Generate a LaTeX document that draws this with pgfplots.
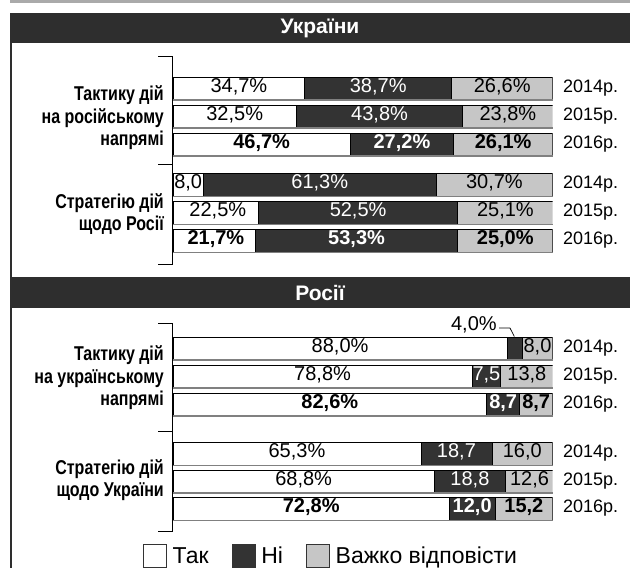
\documentclass[border=0pt]{standalone}
\usepackage{pgfplots}
\pgfplotsset{compat=1.18}
\usepackage{fontspec}
\setmainfont{Liberation Sans}
\newfontfamily\condb{Liberation Sans}[FakeStretch=0.8]
\definecolor{dk}{HTML}{333333}
\definecolor{lg}{HTML}{C6C6C6}
\definecolor{hdr}{HTML}{2E2E2E}
\definecolor{topgray}{HTML}{AAAAAA}
\definecolor{shadow}{HTML}{808080}
\tikzset{
  lbl/.style={font=\fontsize{20}{22}\selectfont, inner sep=0pt, text height=0.72em, text depth=0pt, anchor=center},
  blbl/.style={lbl, font=\fontsize{20}{22}\selectfont\bfseries},
  yr/.style={font=\fontsize{18}{20}\selectfont, inner sep=0pt, anchor=west, text height=0.72em, text depth=0pt},
  cat/.style={font=\fontsize{20}{22.5}\selectfont\condb\bfseries, align=right, anchor=east, inner sep=0pt},
}
\pgfplotsset{
  panel/.style={
    scale only axis, width=379.7pt, xmin=0, xmax=100, y dir=reverse,
    xbar stacked, bar width=23pt, axis line style={draw=none},
    xtick=\empty, ytick=\empty, clip mode=individual,
    every axis plot/.append style={draw=black, line width=0.7pt},
  },
  over/.style={
    scale only axis, width=379.7pt, xmin=0, xmax=100, y dir=reverse,
    hide axis, clip=false,
  }
}
\begin{document}
\begin{tikzpicture}
\useasboundingbox (0,0) rectangle (630pt,-568pt);
\fill[topgray] (10pt,0pt) rectangle (630pt,-3pt);
\fill[hdr] (10pt,-13pt) rectangle (630pt,-43pt);
\node[white, font=\fontsize{21}{22}\selectfont\bfseries] at (320pt,-28pt) {України};
\draw[hdr, line width=1.6pt] (10.8pt,-43pt) -- (10.8pt,-277pt);
\fill[hdr] (10pt,-277pt) rectangle (630pt,-308pt);
\node[white, font=\fontsize{21}{22}\selectfont\bfseries] at (320pt,-292.5pt) {Росії};
\draw[hdr, line width=1.6pt] (10.8pt,-308pt) -- (10.8pt,-568pt);

% panel 1 bars
\begin{axis}[panel, at={(173pt,-60pt)}, anchor=north west, height=210pt, ymin=60, ymax=270]
\addplot[fill=white] coordinates {(34.7,88.5) (32.5,116.5) (46.7,144.5) (8.0,185) (22.5,213) (21.7,241)};
\addplot[fill=dk] coordinates {(38.7,88.5) (43.8,116.5) (27.2,144.5) (61.3,185) (52.5,213) (53.3,241)};
\addplot[fill=lg] coordinates {(26.6,88.5) (23.8,116.5) (26.1,144.5) (30.7,185) (25.1,213) (25.0,241)};
\end{axis}
% panel 1 labels
\begin{axis}[over, at={(173pt,-60pt)}, anchor=north west, height=210pt, ymin=60, ymax=270]
\foreach \yy in {88.5,116.5,144.5,185,213,241}{
  \edef\temp{\noexpand\draw[shadow, line width=1.5pt] (axis cs:0,\yy+11.3) -- (axis cs:100,\yy+11.3);}\temp
}
\node[lbl] at (axis cs:17.35,88.5) {34,7\%};
\node[lbl,white] at (axis cs:54.05,88.5) {38,7\%};
\node[lbl] at (axis cs:86.7,88.5) {26,6\%};
\node[lbl] at (axis cs:16.25,116.5) {32,5\%};
\node[lbl,white] at (axis cs:54.4,116.5) {43,8\%};
\node[lbl] at (axis cs:88.2,116.5) {23,8\%};
\node[blbl] at (axis cs:23.35,144.5) {46,7\%};
\node[blbl,white] at (axis cs:60.3,144.5) {27,2\%};
\node[blbl] at (axis cs:86.95,144.5) {26,1\%};
\node[lbl] at (axis cs:4.0,185) {8,0};
\node[lbl,white] at (axis cs:38.65,185) {61,3\%};
\node[lbl] at (axis cs:84.65,185) {30,7\%};
\node[lbl] at (axis cs:11.8,213) {22,5\%};
\node[lbl,white] at (axis cs:48.75,213) {52,5\%};
\node[lbl] at (axis cs:87.55,213) {25,1\%};
\node[blbl] at (axis cs:11.3,241) {21,7\%};
\node[blbl,white] at (axis cs:48.35,241) {53,3\%};
\node[blbl] at (axis cs:87.5,241) {25,0\%};
\node[yr] at (axis cs:102.7,88.5) {2014р.};
\node[yr] at (axis cs:102.7,116.5) {2015р.};
\node[yr] at (axis cs:102.7,144.5) {2016р.};
\node[yr] at (axis cs:102.7,185) {2014р.};
\node[yr] at (axis cs:102.7,213) {2015р.};
\node[yr] at (axis cs:102.7,241) {2016р.};
\end{axis}

% panel 2 bars
\begin{axis}[panel, at={(173pt,-315pt)}, anchor=north west, height=220pt, ymin=315, ymax=535,
  legend style={at={(-0.0795,-0.0955)}, anchor=west, draw=none, fill=none, inner sep=0pt,
    nodes={inner sep=0pt, font=\fontsize{23}{24}\selectfont},
    /tikz/every odd column/.append style={column sep=6pt},
    /tikz/every even column/.append style={column sep=23pt}},
  legend columns=3,
  legend image code/.code={\draw[#1, draw=black!80, line width=0.7pt] (0pt,-11.5pt) rectangle (23pt,11.5pt);}]
\addplot[fill=white] coordinates {(88.0,348.5) (78.8,376.5) (82.6,404.5) (65.3,454) (68.8,481.5) (72.8,509)};
\addplot[fill=dk] coordinates {(4.0,348.5) (7.5,376.5) (8.7,404.5) (18.7,454) (18.8,481.5) (12.0,509)};
\addplot[fill=lg] coordinates {(8.0,348.5) (13.8,376.5) (8.7,404.5) (16.0,454) (12.6,481.5) (15.2,509)};
\legend{Так,Ні,Важко відповісти}
\end{axis}
% panel 2 labels
\begin{axis}[over, at={(173pt,-315pt)}, anchor=north west, height=220pt, ymin=315, ymax=535]
\foreach \yy in {348.5,376.5,404.5,454,481.5,509}{
  \edef\temp{\noexpand\draw[shadow, line width=1.5pt] (axis cs:0,\yy+11.3) -- (axis cs:100,\yy+11.3);}\temp
}
\node[lbl] at (axis cs:44,348.5) {88,0\%};
\node[lbl] at (axis cs:96,348.5) {8,0};
\node[lbl, anchor=east] at (axis cs:85.3,327) {4,0\%};
\draw[black, line width=0.7pt] (axis cs:85.9,328) -- (axis cs:88.75,328) -- (axis cs:89.9,336.5);
\node[lbl] at (axis cs:39.4,376.5) {78,8\%};
\node[lbl,white] at (axis cs:82.55,376.5) {7,5};
\node[lbl] at (axis cs:93.2,376.5) {13,8};
\node[blbl] at (axis cs:41.3,404.5) {82,6\%};
\node[blbl,white] at (axis cs:86.95,404.5) {8,7};
\node[blbl] at (axis cs:95.65,404.5) {8,7};
\node[lbl] at (axis cs:32.65,454) {65,3\%};
\node[lbl,white] at (axis cs:74.65,454) {18,7};
\node[lbl] at (axis cs:92,454) {16,0};
\node[lbl] at (axis cs:34.4,481.5) {68,8\%};
\node[lbl,white] at (axis cs:78.2,481.5) {18,8};
\node[lbl] at (axis cs:93.9,481.5) {12,6};
\node[blbl] at (axis cs:36.4,509) {72,8\%};
\node[blbl,white] at (axis cs:78.8,509) {12,0};
\node[blbl] at (axis cs:92.4,509) {15,2};
\node[yr] at (axis cs:102.7,348.5) {2014р.};
\node[yr] at (axis cs:102.7,376.5) {2015р.};
\node[yr] at (axis cs:102.7,404.5) {2016р.};
\node[yr] at (axis cs:102.7,454) {2014р.};
\node[yr] at (axis cs:102.7,481.5) {2015р.};
\node[yr] at (axis cs:102.7,509) {2016р.};
\end{axis}

% brackets and category labels
\draw[black, line width=0.8pt] (158pt,-56.7pt) -- (172.7pt,-56.7pt) -- (172.7pt,-264pt) -- (158pt,-264pt);
\draw[black, line width=0.8pt] (158pt,-164pt) -- (172.7pt,-164pt);
\draw[black, line width=0.8pt] (158pt,-323pt) -- (172.7pt,-323pt) -- (172.7pt,-531pt) -- (158pt,-531pt);
\draw[black, line width=0.8pt] (158pt,-431pt) -- (172.7pt,-431pt);
\node[cat] at (164pt,-118pt) {Тактику дій\\на російському\\напрямі};
\node[cat] at (164pt,-214pt) {Стратегію дій\\щодо Росії};
\node[cat] at (164pt,-378pt) {Тактику дій\\на українському\\напрямі};
\node[cat] at (164pt,-480pt) {Стратегію дій\\щодо України};
\end{tikzpicture}
\end{document}
